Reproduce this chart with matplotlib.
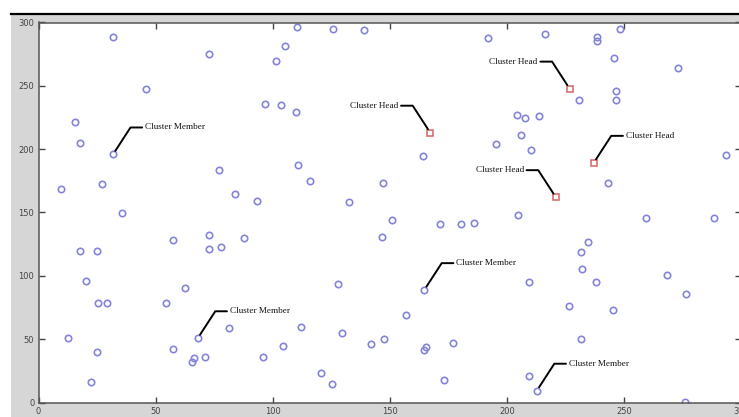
import matplotlib
matplotlib.use('Agg')
import matplotlib.pyplot as plt
from matplotlib.patches import Rectangle
from matplotlib.lines import Line2D

# node positions
member_x = [31.8, 72.7, 45.7, 15.8, 17.8, 31.8, 9.5, 27.3, 77.0, 83.8, 93.5, 35.8,
            110.5, 125.7, 138.8, 105.2, 101.6, 96.8, 103.6, 109.8, 110.8, 115.8, 132.4,
            192.1, 216.5, 238.7, 238.7, 248.3, 245.7, 273.3, 230.8, 246.7, 246.7,
            204.5, 207.8, 213.6, 205.9, 195.2, 210.5, 164.0, 147.1, 243.0, 293.5,
            17.7, 25.0, 20.4, 25.2, 29.4, 12.7, 24.8, 22.5, 57.3, 73.0, 72.6, 77.8,
            87.9, 62.4, 54.6, 68.0, 57.6, 66.4, 65.5, 71.0, 81.5, 95.8, 104.5, 112.1,
            128.0, 129.4, 120.8, 125.5, 142.0,
            150.9, 146.6, 171.5, 180.3, 185.8, 204.6, 259.6, 288.5, 234.7, 231.7,
            232.3, 209.5, 238.1, 268.5, 276.3, 164.7, 156.9, 226.5, 245.4, 147.4,
            165.6, 164.7, 177.2, 231.8, 173.3, 209.5, 212.8, 276.0]
member_y = [288.8, 275.3, 247.8, 221.5, 204.5, 195.8, 168.6, 172.8, 183.9, 164.7, 158.9, 149.4,
            296.7, 294.8, 294.3, 281.3, 269.8, 236.0, 234.6, 229.1, 187.6, 175.0, 158.4,
            287.7, 290.8, 288.4, 285.3, 294.8, 271.6, 263.7, 239.1, 246.0, 239.1,
            227.0, 224.9, 226.4, 211.4, 204.0, 199.5, 194.5, 173.4, 173.2, 195.0,
            119.8, 119.8, 96.0, 78.9, 78.4, 50.7, 39.8, 16.1, 128.5, 132.5, 121.1, 123.0,
            129.6, 90.5, 78.9, 50.7, 42.0, 35.4, 31.7, 35.9, 58.8, 35.9, 44.9, 59.6,
            93.4, 55.2, 23.0, 15.0, 45.9,
            144.1, 130.9, 140.7, 141.2, 141.7, 148.3, 145.4, 145.4, 126.9, 119.0,
            105.1, 95.3, 95.3, 100.3, 85.8, 88.7, 69.1, 76.2, 72.8, 50.4,
            43.8, 41.7, 46.7, 50.4, 18.0, 20.6, 9.3, 0.2]

head_x = [226.8, 167.3, 237.1, 220.9]
head_y = [247.8, 213.0, 189.2, 162.1]

# callouts
ann_x = [31.8, 68.0, 164.7, 212.8, 167.3, 226.8, 220.9, 237.1]
ann_y = [195.8, 50.7, 88.7, 9.3, 213.0, 247.8, 162.1, 189.2]
ann_text = ['Cluster Member'] * 4 + ['Cluster Head'] * 4
ann_side = [1, 1, 1, 1, -1, -1, -1, 1]

ticks = [0, 50, 100, 150, 200, 250, 300]

W, H = 739, 417


def draw():
    fig = plt.figure(figsize=(W / 100, H / 100), dpi=100, facecolor='white')

    # matlab style grey frame with black bar on top
    fig.patches.append(Rectangle((11 / W, 0), 1, (H - 14) / H, transform=fig.transFigure,
                                 facecolor='#d6d6d6', edgecolor='none', zorder=-2))
    fig.lines.append(Line2D([11 / W, 1], [(H - 13.5) / H] * 2, transform=fig.transFigure,
                            color='black', lw=1.6))

    # axes runs slightly past the right edge of the image, like the screenshot
    ax = fig.add_axes([38.5 / W, (H - 402.5) / H, (741 - 38.5) / W, (402.5 - 22.5) / H])
    ax.set_facecolor('white')

    ax.plot(member_x, member_y, 'o', ls='none', ms=4.6, mfc='none', mec='#8585d8', mew=1.2)
    ax.plot(head_x, head_y, 's', ls='none', ms=4.6, mfc='none', mec='#d87070', mew=1.2)

    for x, y, t, s in zip(ann_x, ann_y, ann_text, ann_side):
        ax.annotate(t, xy=(x, y), xytext=(s * 32, 27), textcoords='offset pixels',
                    ha='left' if s > 0 else 'right', va='center',
                    fontsize=6.6, family='Liberation Serif', color='#111111',
                    arrowprops=dict(arrowstyle='-', color='black', lw=1.4,
                                    shrinkA=0, shrinkB=3,
                                    relpos=(0, 0.5) if s > 0 else (1, 0.5),
                                    connectionstyle='angle,angleA=0,angleB=%d'
                                                    % (57 if s > 0 else 123)))

    ax.set_xlim(0, 300)
    ax.set_ylim(0, 300)
    ax.set_xticks(ticks)
    ax.set_yticks(ticks)
    ax.tick_params(direction='in', length=4, width=1, color='#444444',
                   top=True, right=True, labelsize=6, labelcolor='#444444', pad=3)
    for sp in ax.spines.values():
        sp.set_color('#555555')
        sp.set_linewidth(1.1)

    fig.savefig('out.png', dpi=100, facecolor='white')


if __name__ == "__main__":
    draw()
